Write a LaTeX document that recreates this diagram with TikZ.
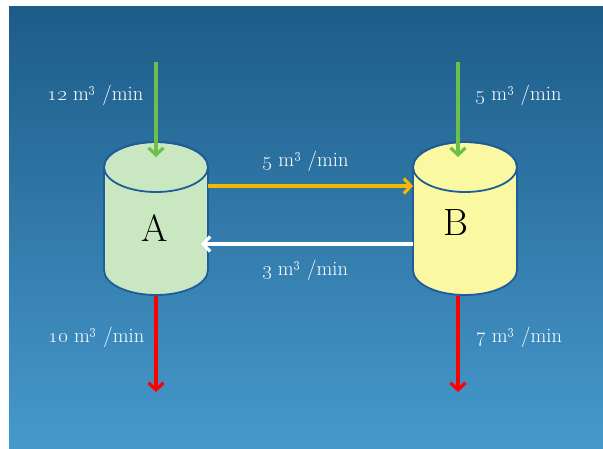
\documentclass[tikz,border=0pt]{standalone}
\usetikzlibrary{arrows.meta}
\definecolor{bgtop}{HTML}{1D5C88}
\definecolor{bgbot}{HTML}{4699CC}
\definecolor{cylline}{HTML}{1F5C99}
\definecolor{fillA}{HTML}{C9E7C0}
\definecolor{fillB}{HTML}{FAF8A1}
\definecolor{ingreen}{HTML}{6CC04A}
\definecolor{outred}{HTML}{FF0000}
\definecolor{flowor}{HTML}{F5B800}
\tikzset{
  cyl/.style={draw=cylline, line width=1.8pt},
  flow/.style={line width=3.2pt, -{Straight Barb[length=7pt,width=15pt]}},
  lbl/.style={text=white, font=\fontsize{20.5}{24}\selectfont, inner sep=0pt},
  tank/.style={font=\fontsize{38}{40}\selectfont, inner sep=0pt}
}
\newcommand{\rate}[1]{\oldstylenums{#1} m\textsuperscript{\oldstylenums{3}} /min}
\begin{document}
\begin{tikzpicture}[x=1pt,y=1pt]
\useasboundingbox (0,0) rectangle (603,448);
\fill[white] (0,0) rectangle (603,448);
\shade[top color=bgtop, bottom color=bgbot] (9,0) rectangle (603,441);
% cylinder A
\draw[cyl, fill=fillA] (104,281) -- (104,178) arc[start angle=180,end angle=360,x radius=52,y radius=25] -- (208,281) arc[start angle=0,end angle=180,x radius=52,y radius=25] -- cycle;
\draw[cyl] (156,281) ellipse[x radius=52, y radius=25];
% cylinder B
\draw[cyl, fill=fillB] (413,281) -- (413,178) arc[start angle=180,end angle=360,x radius=52,y radius=25] -- (517,281) arc[start angle=0,end angle=180,x radius=52,y radius=25] -- cycle;
\draw[cyl] (465,281) ellipse[x radius=52, y radius=25];
\node[tank] (A) at (155,220) {A};
\node[tank] (B) at (456,225) {B};
% connector ends
\coordinate (inAstart) at (156,386);
\coordinate (inAend) at (156,291);
\coordinate (inBstart) at (458,386);
\coordinate (inBend) at (458,291);
\coordinate (outAstart) at (156,152);
\coordinate (outAend) at (156,56);
\coordinate (outBstart) at (458,152);
\coordinate (outBend) at (458,56);
\coordinate (ABstart) at (208,262);
\coordinate (ABend) at (413,262);
\coordinate (BAstart) at (413,204);
\coordinate (BAend) at (201,204);
\draw[flow, ingreen] (inAstart) -- (inAend);
\draw[flow, ingreen] (inBstart) -- (inBend);
\draw[flow, outred] (outAstart) -- (outAend);
\draw[flow, outred] (outBstart) -- (outBend);
\draw[flow, flowor] (ABstart) -- (ABend);
\draw[flow, white] (BAstart) -- (BAend);
% labels
\node[lbl] (l12) at (95.5,353) {\rate{12}};
\node[lbl] (l5in) at (518.5,353) {\rate{5}};
\node[lbl] (l5ab) at (305.5,287) {\rate{5}};
\node[lbl] (l3ba) at (305,178) {\rate{3}};
\node[lbl] (l10) at (96.5,111) {\rate{10}};
\node[lbl] (l7) at (519,111) {\rate{7}};
\end{tikzpicture}
\end{document}
